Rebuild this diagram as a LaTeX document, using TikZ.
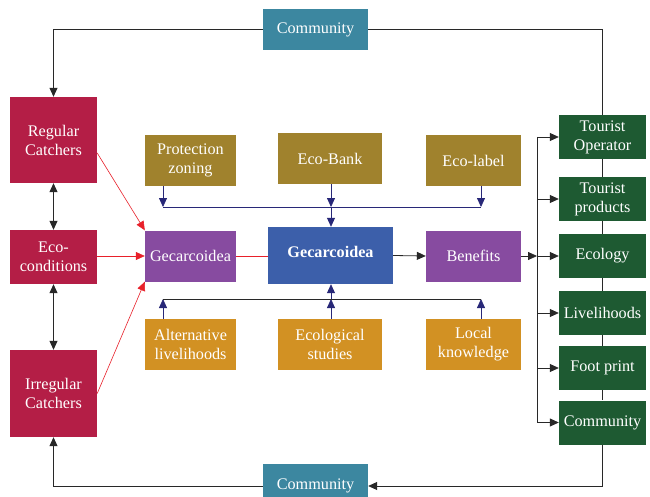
\documentclass[tikz,border=0pt]{standalone}
\usepackage{fontspec}
\setmainfont{Liberation Serif}
\usetikzlibrary{arrows.meta}
\definecolor{catchColor}{RGB}{180,30,70}
\definecolor{comColor}{RGB}{60,135,160}
\definecolor{oliveColor}{RGB}{160,130,45}
\definecolor{purpColor}{RGB}{135,75,160}
\definecolor{blueColor}{RGB}{60,95,170}
\definecolor{orangeColor}{RGB}{210,145,35}
\definecolor{greenColor}{RGB}{30,90,50}
\definecolor{navyColor}{RGB}{40,40,120}
\definecolor{lineColor}{RGB}{40,40,40}
\definecolor{redColor}{RGB}{232,32,42}
\tikzset{
  box/.style={fill=#1, text=white, align=center, inner sep=0pt,
    font=\fontsize{16.2}{19}\selectfont},
  arr/.style={draw=lineColor, line width=0.8pt, -{Triangle[length=9pt,width=8pt]}},
  dblarr/.style={draw=lineColor, line width=0.8pt, {Triangle[length=9pt,width=8pt]}-{Triangle[length=9pt,width=8pt]}},
  plain/.style={draw=lineColor, line width=0.8pt},
  navyarr/.style={draw=navyColor, line width=0.8pt, -{Triangle[length=9pt,width=8pt]}},
  redarr/.style={draw=redColor, line width=0.6pt, -{Triangle[length=9pt,width=8pt]}}
}
\begin{document}
\begin{tikzpicture}[x=1pt,y=-1pt]
\path[use as bounding box,fill=white] (0,0) rectangle (650,497);

% community loop
\node[box=comColor, minimum width=105pt, minimum height=41pt] (comtop) at (315.5,29.5) {Community};
\node[box=comColor, minimum width=105pt, minimum height=44pt] (combot) at (315.5,486) {Community};

% catchers
\node[box=catchColor, minimum width=87pt, minimum height=86pt] (regular) at (53.5,140) {Regular\\Catchers};
\node[box=catchColor, minimum width=87pt, minimum height=54pt] (ecocond) at (53.5,257) {Eco-\\conditions};
\node[box=catchColor, minimum width=87pt, minimum height=87pt] (irregular) at (53.5,393.5) {Irregular\\Catchers};

% upper row
\node[box=oliveColor, minimum width=91pt, minimum height=51pt] (prot) at (190.5,160.5) {Protection\\zoning};
\node[box=oliveColor, minimum width=104pt, minimum height=51pt] (ecobank) at (330,158.5) {Eco-Bank};
\node[box=oliveColor, minimum width=95pt, minimum height=51pt] (ecolabel) at (473.5,160.5) {Eco-label};

% middle row
\node[box=purpColor, minimum width=91pt, minimum height=51pt] (gec) at (190.5,256) {Gecarcoidea};
\node[box=blueColor, minimum width=125pt, minimum height=57pt, text depth=8pt] (gecmain) at (330.5,255.5) {\bfseries Gecarcoidea};
\node[box=purpColor, minimum width=95pt, minimum height=51pt] (benefits) at (473.5,256) {Benefits};

% lower row
\node[box=orangeColor, minimum width=91pt, minimum height=51pt] (alt) at (190.5,344.5) {Alternative\\livelihoods};
\node[box=orangeColor, minimum width=104pt, minimum height=51pt] (ecostud) at (330,344.5) {Ecological\\studies};
\node[box=orangeColor, minimum width=95pt, minimum height=51pt] (local) at (473.5,344.5) {Local\\knowledge};

% outcomes
\node[box=greenColor, minimum width=87pt, minimum height=44pt] (op) at (602.5,137) {Tourist\\Operator};
\node[box=greenColor, minimum width=87pt, minimum height=44pt] (prod) at (602.5,199) {Tourist\\products};
\node[box=greenColor, minimum width=87pt, minimum height=44pt] (ecol) at (602.5,256) {Ecology};
\node[box=greenColor, minimum width=87pt, minimum height=44pt] (live) at (602.5,313) {Livelihoods};
\node[box=greenColor, minimum width=87pt, minimum height=44pt] (foot) at (602.5,368) {Foot print};
\node[box=greenColor, minimum width=87pt, minimum height=44pt] (gcom) at (602.5,422.5) {Community};

\coordinate (tbusL) at (163,207);
\coordinate (tbusM) at (331,207);
\coordinate (tbusR) at (481,207);
\coordinate (bbusL) at (163,299);
\coordinate (bbusM) at (331,299);
\coordinate (bbusR) at (481,299);
\coordinate (rbus) at (537,256);

% loop lines
\draw[arr] (comtop.west) -| (regular.north);
\draw[plain] (comtop.east) -| (op.north);
\draw[arr] (gcom.south) |- (combot.east);
\draw[arr] (combot.west) -| (irregular.south);
\draw[plain] (op.south) -- (prod.north);
\draw[plain] (prod.south) -- (ecol.north);
\draw[plain] (ecol.south) -- (live.north);
\draw[plain] (live.south) -- (foot.north);
\draw[plain] (foot.south) -- (gcom.north);

% catchers
\draw[dblarr] (regular.south) -- (ecocond.north);
\draw[dblarr] (ecocond.south) -- (irregular.north);
\draw[redarr] ([yshift=-13pt]regular.east) -- (gec.north west);
\draw[redarr] (ecocond.east |- gec.west) -- (gec.west);
\draw[redarr] (irregular.east) -- (gec.south west);
\draw[draw=redColor, line width=0.6pt] (gec.east) -- (gecmain.west |- gec.east);

% upper bus
\draw[navyarr] (prot.south -| tbusL) -- (tbusL);
\draw[navyarr] (ecobank.south -| tbusM) -- (tbusM);
\draw[navyarr] (ecolabel.south -| tbusR) -- (tbusR);
\draw[draw=navyColor, line width=0.8pt] (tbusL) -- (tbusR);
\draw[navyarr] (tbusM) -- (gecmain.north -| tbusM);

% lower bus
\draw[navyarr] (alt.north -| bbusL) -- (bbusL);
\draw[navyarr] (ecostud.north -| bbusM) -- (bbusM);
\draw[navyarr] (local.north -| bbusR) -- (bbusR);
\draw[plain] (bbusL) -- (bbusR);
\draw[navyarr] (bbusM) -- (gecmain.south -| bbusM);

% outcomes bus
\draw[arr] (gecmain.east) -- (benefits.west);
\draw[arr] (benefits.east) -- (rbus);
\draw[plain] (rbus |- op.west) -- (rbus |- gcom.west);
\foreach \n in {op,prod,ecol,live,foot,gcom}
  \draw[arr] (rbus |- \n.west) -- (\n.west);
\end{tikzpicture}
\end{document}
